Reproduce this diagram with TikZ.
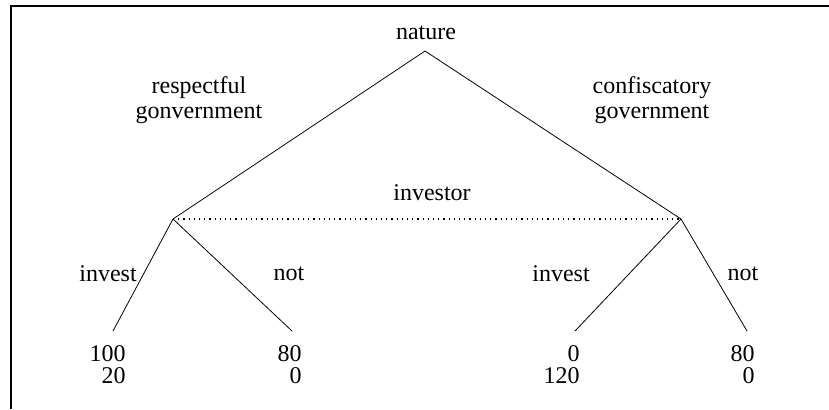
\documentclass[tikz,border=0pt]{standalone}
\usepackage{fontspec}
\setmainfont{Liberation Serif}
\usetikzlibrary{positioning}
\begin{document}
\begin{tikzpicture}[
		x=0.5pt, y=-0.5pt,
		every node/.style={font=\fontsize{12}{12.5}\selectfont},
		payoff/.style={align=right, anchor=east, inner sep=0pt, font=\fontsize{12}{11}\selectfont},
		twoline/.style={align=center},
		info/.style={dotted, line width=0.6pt},
	]
		\useasboundingbox (0,0) rectangle (829,409);
		%Frame
		\draw[line width=0.8pt] (11,409) -- (11,6) -- (829,6);

		%Nodes
		\coordinate (root) at (425,51);
		\coordinate (left) at (173,219);
		\coordinate (right) at (681,219);
		\coordinate (leafA) at (113,331);
		\coordinate (leafB) at (292,331);
		\coordinate (leafC) at (575,331);
		\coordinate (leafD) at (747,331);

		\node (nature) at (426,33) {nature};
		\node (resp) [twoline] at (199,100) {respectful\\gonvernment};
		\node (conf) [twoline] at (652,100) {confiscatory\\government};
		\node (investor) at (432,193) {investor};

		\node (investA) at (108,274) {invest};
		\node (notB) at (289,274) {not};
		\node (investC) at (561,274) {invest};
		\node (notD) at (743,274) {not};

		\node (payA) [payoff] at (126,365) {100\\20};
		\node (payB) [payoff] at (302,365) {80\\0};
		\node (payC) [payoff] at (580,365) {0\\120};
		\node (payD) [payoff] at (755,365) {80\\0};

		%Lines
		\draw (root) -- (left);
		\draw (root) -- (right);
		\draw[info] (left) -- (right);
		\draw (left) -- (leafA);
		\draw (left) -- (leafB);
		\draw (right) -- (leafC);
		\draw (right) -- (leafD);
	\end{tikzpicture}
\end{document}
